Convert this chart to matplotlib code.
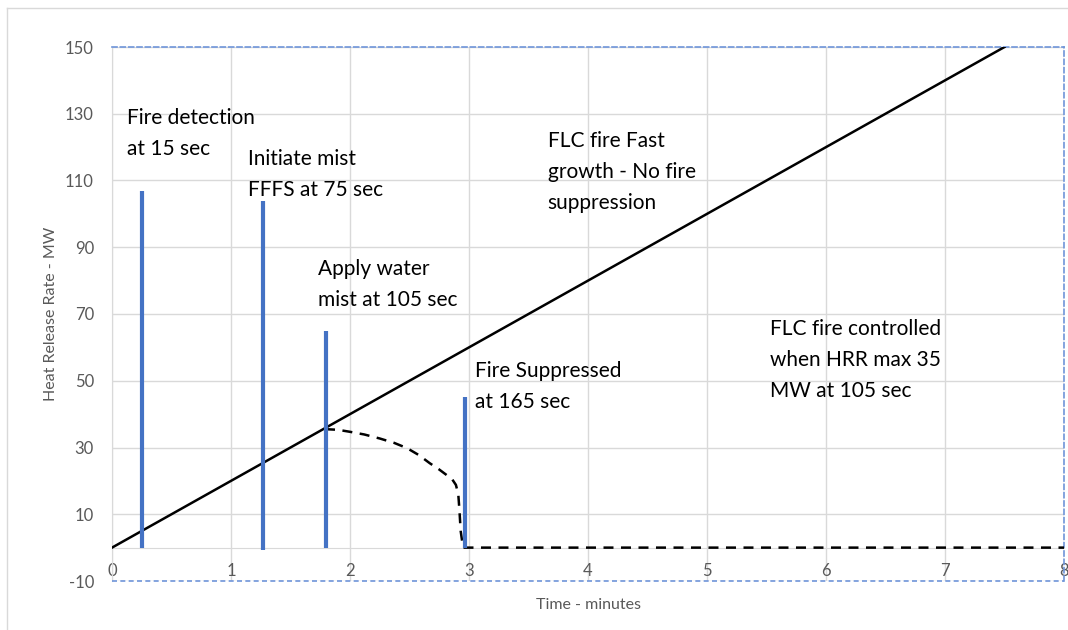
import matplotlib.pyplot as plt
from matplotlib.lines import Line2D

plt.rcParams['font.family'] = ['Lato', 'DejaVu Sans']
plt.rcParams['axes.unicode_minus'] = False

# fast growth fire, no suppression (minutes, MW)
growth_time = [0, 7.5]
growth_hrr = [0, 150]

# suppressed fire curve
supp_time = [1.79, 1.9, 2.0, 2.12, 2.25, 2.37, 2.48, 2.58, 2.67, 2.75, 2.81, 2.86, 2.89, 2.91, 2.92, 2.93, 2.95, 8.0]
supp_hrr = [35.5, 35.3, 34.7, 33.9, 32.7, 31.4, 29.8, 27.7, 25.3, 23.4, 21.8, 20.4, 18.8, 16.0, 11.0, 5.0, 0.0, 0.0]

# event markers (blue vertical bars)
event_time = [0.252, 1.266, 1.795, 2.966]
event_top = [107, 104, 65, 45]
event_bottom = [0, -0.8, 0, 0]

# annotations
note_text = ["Fire detection\nat 15 sec",
             "Initiate mist\nFFFS at 75 sec",
             "Apply water\nmist at 105 sec",
             "Fire Suppressed\nat 165 sec",
             "FLC fire Fast\ngrowth - No fire\nsuppression",
             "FLC fire controlled\nwhen HRR max 35\nMW at 105 sec"]
note_x = [0.126, 1.143, 1.73, 3.05, 3.66, 5.53]
note_y = [124.1, 111.9, 78.9, 48.3, 112.6, 56.3]

x_ticks = list(range(0, 9))
y_ticks = list(range(-10, 151, 20))

grey = '#d9d9d9'
label_grey = '#595959'
dash_blue = '#6f95d9'

fig = plt.figure(figsize=(10.68, 6.3), dpi=100)
ax = fig.add_axes([112/1068, 49/630, 952/1068, 534/630])

# outer chart frame (left and top edges visible)
fig.add_artist(Line2D([7/1068, 7/1068], [0, 1 - 8/630], color=grey, lw=1))
fig.add_artist(Line2D([7/1068, 1], [1 - 8/630, 1 - 8/630], color=grey, lw=1))

ax.set_xlim(0, 8)
ax.set_ylim(-10, 150)
ax.set_xticks(x_ticks)
ax.set_yticks(y_ticks)
ax.grid(True, color=grey, lw=1)
ax.set_axisbelow(True)

ax.spines['left'].set_color(grey)
ax.spines['bottom'].set_position(('data', 0))
ax.spines['bottom'].set_color(grey)
for s in ['top', 'right']:
    ax.spines[s].set_color(dash_blue)
    ax.spines[s].set_linestyle((0, (3, 2)))
    ax.spines[s].set_linewidth(1.2)
ax.axhline(-10, color=dash_blue, ls=(0, (3, 2)), lw=1.2, clip_on=False, zorder=5)

ax.tick_params(axis='both', length=0, labelsize=12, labelcolor=label_grey)
ax.tick_params(axis='y', pad=13)
ax.tick_params(axis='x', pad=11)

ax.plot(growth_time, growth_hrr, color='black', lw=1.8, zorder=3)
ax.plot(supp_time, supp_hrr, color='black', lw=1.8, ls=(0, (4, 3)), zorder=3)
ax.vlines(event_time, event_bottom, event_top, color='#4472C4', lw=3, zorder=4)

for t, x, y in zip(note_text, note_x, note_y):
    ax.text(x, y, t, fontsize=15, va='center', ha='left', linespacing=1.68, color='black')

ax.set_xlabel('Time - minutes', fontsize=11.5, color=label_grey, labelpad=14)
ax.set_ylabel('Heat Release Rate - MW', fontsize=11.5, color=label_grey, labelpad=5)

plt.savefig('out.png', dpi=100)
